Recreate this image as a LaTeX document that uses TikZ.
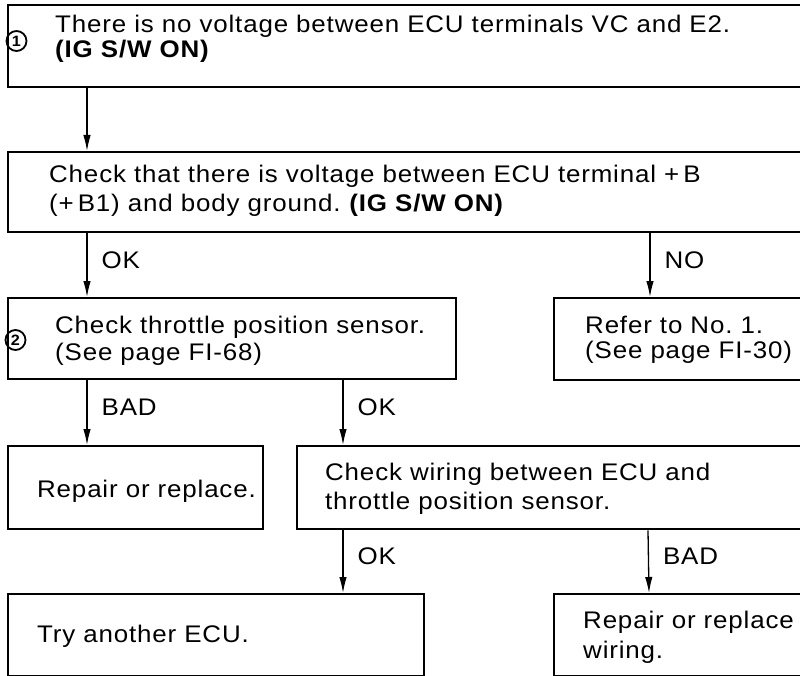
\documentclass[tikz,border=0pt]{standalone}
\usepackage{fontspec}
\setmainfont{Liberation Sans}[FakeStretch=1.08, LetterSpace=3.5]
\usetikzlibrary{arrows.meta}
\frenchspacing

\begin{document}
\begin{tikzpicture}[x=1pt, y=-1pt,
  box/.style={draw, line width=2.4pt, anchor=north west, inner sep=0pt},
  txt/.style={anchor=base west, inner sep=0pt, align=left, font=\fontsize{24}{28}\selectfont},
  num/.style={draw, circle, line width=1.8pt, inner sep=0pt, minimum size=20pt, font=\fontsize{15}{15}\selectfont\bfseries},
  arr/.style={line width=1.3pt, -{Latex[length=16pt, width=7.5pt]}},
  lbl/.style={right=14pt, pos=0.42, inner sep=0pt, font=\fontsize{24}{24}\selectfont}]
\useasboundingbox (0,0) rectangle (800,676);
% boxes
\node[box, minimum width=796pt, minimum height=82pt] (noVC) at (7,4) {};
\node[box, minimum width=796pt, minimum height=80pt] (bplus) at (7,151) {};
\node[box, minimum width=448pt, minimum height=81pt] (tps) at (7,297) {};
\node[box, minimum width=250pt, minimum height=82pt] (referNo) at (553,297) {};
\node[box, minimum width=255pt, minimum height=83pt] (repair) at (7,445) {};
\node[box, minimum width=507pt, minimum height=83pt] (wiring) at (296,445) {};
\node[box, minimum width=416pt, minimum height=82pt] (tryecu) at (7,593) {};
\node[box, minimum width=250pt, minimum height=82pt] (rwire) at (553,593) {};
% texts (anchored on the last line)
\node[num] (one) at (16.5,41) {1};
\node[txt, font=\fontsize{24}{25}\selectfont] (noVCt) at (55,58)
  {There is no voltage between ECU terminals VC and E2.\\\textbf{(IG S/W ON)}};
\node[txt, font=\fontsize{24}{29}\selectfont] (bplust) at (49,212)
  {Check that there is voltage between ECU terminal +\,B\\(+\,B1) and body ground. \textbf{(IG S/W ON)}};
\node[num] (two) at (15.5,340) {2};
\node[txt, font=\fontsize{24}{27}\selectfont] (tpst) at (55,360)
  {Check throttle position sensor.\\(See page FI-68)};
\node[txt, font=\fontsize{24}{25}\selectfont] (referNot) at (585,358)
  {Refer to No. 1.\\(See page FI-30)};
\node[txt] (repairt) at (37,497) {Repair or replace.};
\node[txt, font=\fontsize{24}{29}\selectfont] (wiringt) at (325,509)
  {Check wiring between ECU and\\throttle position sensor.};
\node[txt] (tryecut) at (37,642) {Try another ECU.};
\node[txt, font=\fontsize{24}{30}\selectfont] (rwiret) at (583,658)
  {Repair or replace\\wiring.};
% arrows
\draw[arr] ([xshift=80pt]noVC.south west) -- ([xshift=80pt]bplus.north west);
\draw[arr] ([xshift=80pt]bplus.south west) -- ([xshift=80pt]tps.north west) node[lbl] {OK};
\coordinate (noX) at ([xshift=97pt]referNo.north west);
\draw[arr] (noX |- bplus.south) -- (noX) node[lbl] {NO};
\draw[arr] ([xshift=80pt]tps.south west) -- ([xshift=80pt]repair.north west) node[lbl] {BAD};
\draw[arr] ([xshift=336pt]tps.south west) -- ([xshift=47pt]wiring.north west) node[lbl] {OK};
\draw[arr] ([xshift=47pt]wiring.south west) -- ([xshift=336pt]tryecu.north west) node[lbl] {OK};
\draw[arr] ([xshift=352pt]wiring.south west) -- ([xshift=96pt]rwire.north west) node[lbl] {BAD};
\end{tikzpicture}
\end{document}
